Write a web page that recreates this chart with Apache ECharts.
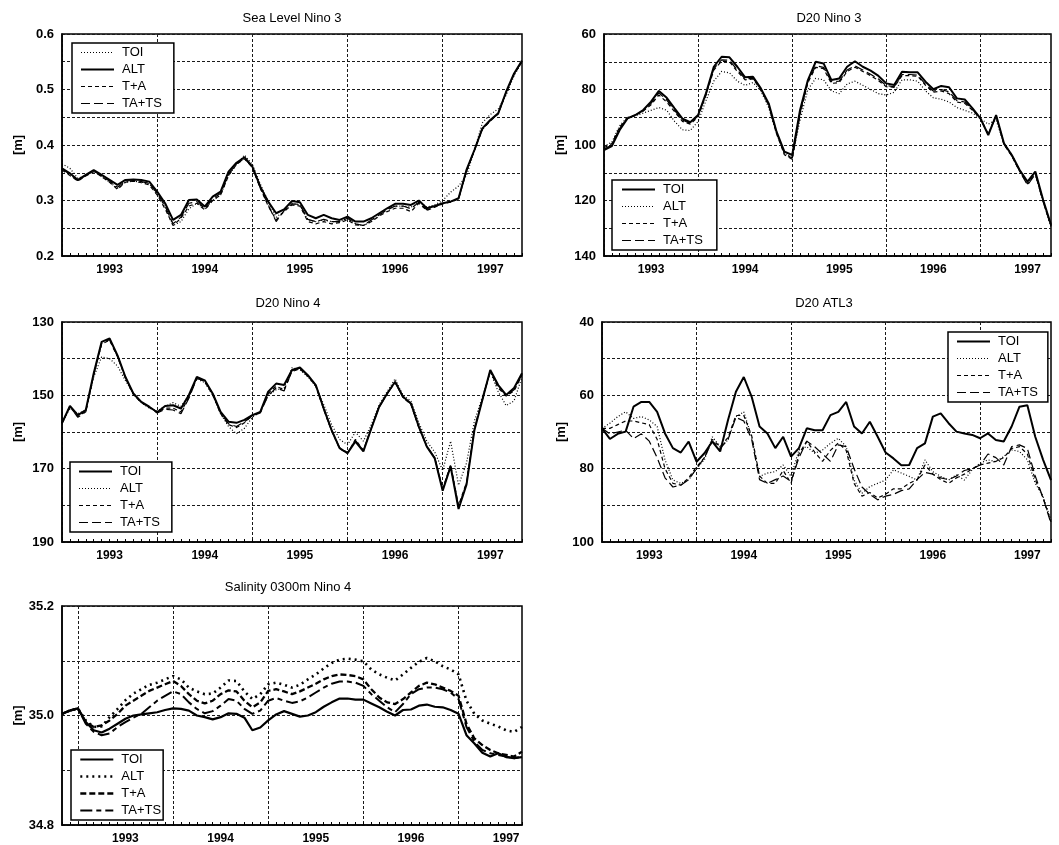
<!DOCTYPE html>
<html><head><meta charset="utf-8">
<script src="https://cdn.jsdelivr.net/npm/echarts@6/dist/echarts.min.js"></script>
<style>html,body{margin:0;padding:0;background:#fff}#c{width:1059px;height:845px}</style>
</head><body><div id="c"></div>
<script>
// ---------- Data ----------
const seriesNames = ['TOI', 'ALT', 'T+A', 'TA+TS'];
const titles = ['Sea Level Nino 3', 'D20 Nino 3', 'D20 Nino 4', 'D20 ATL3', 'Salinity 0300m Nino 4'];

// Panel 1: Sea Level Nino 3 (monthly, Jan 1993 .. Nov 1997)
const sl3_TOI = [0.366,0.358,0.340,0.345,0.354,0.343,0.333,0.322,0.333,0.335,0.333,0.330,0.312,0.288,0.255,0.262,0.285,0.295,0.285,0.300,0.310,0.345,0.365,0.382,0.365,0.330,0.298,0.270,0.280,0.295,0.292,0.265,0.262,0.265,0.262,0.262,0.268,0.258,0.255,0.262,0.275,0.285,0.290,0.290,0.288,0.298,0.288,0.292,0.300,0.315,0.326,0.345,0.390,0.440,0.455,0.465,0.490,0.525,0.550];
const sl3_ALT = [0.358,0.349,0.337,0.346,0.355,0.346,0.337,0.328,0.337,0.338,0.337,0.334,0.316,0.295,0.265,0.274,0.301,0.302,0.289,0.307,0.316,0.352,0.368,0.378,0.361,0.325,0.298,0.277,0.284,0.299,0.297,0.274,0.268,0.274,0.268,0.265,0.271,0.262,0.262,0.268,0.277,0.286,0.294,0.294,0.292,0.300,0.286,0.290,0.295,0.298,0.304,0.355,0.391,0.430,0.445,0.457,0.496,0.529,0.552];
const sl3_TA = [0.355,0.345,0.335,0.344,0.352,0.343,0.333,0.320,0.333,0.335,0.332,0.328,0.310,0.285,0.255,0.268,0.290,0.295,0.283,0.300,0.310,0.345,0.365,0.375,0.360,0.322,0.290,0.265,0.280,0.292,0.290,0.262,0.258,0.262,0.258,0.260,0.265,0.256,0.255,0.262,0.272,0.280,0.286,0.286,0.280,0.295,0.282,0.288,0.294,0.297,0.303,0.352,0.390,0.428,0.443,0.456,0.494,0.527,0.550];
const sl3_TATS = [0.357,0.347,0.336,0.345,0.353,0.344,0.335,0.324,0.335,0.336,0.334,0.331,0.313,0.290,0.258,0.270,0.295,0.298,0.286,0.303,0.313,0.348,0.366,0.376,0.360,0.323,0.292,0.262,0.282,0.294,0.293,0.266,0.262,0.266,0.262,0.262,0.268,0.258,0.255,0.265,0.274,0.283,0.290,0.290,0.285,0.297,0.283,0.289,0.295,0.298,0.303,0.354,0.391,0.429,0.444,0.457,0.495,0.528,0.551];

// Panel 2: D20 Nino 3 (Jan 1993 .. Oct 1997)
const d3_TOI = [101.8,100.4,94.6,90.4,89.2,87.4,84.4,80.5,83.0,86.8,90.5,91.8,89.2,81.4,71.8,68.2,68.4,71.8,75.6,75.4,79.6,85.0,95.2,102.4,103.6,87.4,76.6,70.0,70.6,76.6,76.0,71.8,69.8,71.8,73.2,75.1,77.8,78.4,73.6,73.8,73.8,77.2,79.9,78.7,79.2,83.2,83.6,86.8,90.4,96.4,89.2,99.4,103.6,109.0,113.2,109.6,119.8,128.8];
const d3_ALT = [100.5,99.0,93.0,90.0,89.5,88.5,87.5,86.5,87.5,91.5,94.5,94.8,91.5,84.0,77.0,73.5,74.0,77.0,78.5,77.5,80.5,86.5,96.0,103.0,104.5,91.0,80.0,76.0,76.5,80.5,81.5,78.0,77.0,78.5,80.0,81.5,82.0,81.0,76.5,76.5,77.0,80.5,83.0,83.5,84.5,86.5,87.5,88.5,90.5,92.5,91.0,99.5,103.5,109.0,113.5,110.5,120.5,129.5];
const d3_TA = [101.0,99.5,93.5,90.2,89.3,87.8,85.5,82.0,84.5,88.0,91.5,92.5,89.8,82.0,73.0,69.8,70.0,73.5,76.5,76.2,80.0,85.8,95.8,103.5,105.2,89.0,77.5,72.0,72.5,77.8,77.5,73.5,72.0,73.5,75.0,76.8,79.0,79.2,75.0,75.0,75.2,78.5,81.0,80.5,81.5,84.5,85.0,87.5,90.5,96.0,89.5,99.8,104.0,109.5,114.0,110.0,120.2,129.2];
const d3_TATS = [101.5,100.0,94.0,90.3,89.3,87.6,85.0,81.2,83.8,87.5,91.0,92.2,89.5,81.8,72.5,69.3,69.5,73.0,76.2,75.9,79.9,85.5,95.5,103.0,104.8,88.5,77.0,71.5,72.0,77.2,77.0,73.0,71.5,73.0,74.5,76.2,78.6,79.0,74.6,74.6,74.8,78.2,80.6,80.0,80.8,84.0,84.5,87.2,90.4,96.2,89.4,99.6,103.8,109.4,114.5,110.5,120.5,129.0];

// Panel 3: D20 Nino 4 (Jan 1993 .. Nov 1997)
const d4_TOI = [157.6,152.9,155.4,154.0,144.0,135.4,134.5,139.1,145.0,149.5,151.8,153.1,154.6,152.9,152.7,153.6,149.9,145.0,145.9,149.5,154.5,157.2,157.5,156.7,155.4,154.5,149.0,146.8,147.2,143.1,142.4,144.5,147.2,153.6,159.5,164.4,165.8,162.6,165.3,159.0,153.1,149.5,146.3,150.4,152.2,158.6,164.0,167.2,176.0,169.4,181.0,174.4,159.5,151.3,143.1,147.2,149.9,148.0,144.0];
const d4_ALT = [157.6,153.5,155.0,154.0,145.0,139.5,140.0,142.0,146.0,149.5,152.0,153.5,154.2,153.0,152.0,153.0,150.0,145.5,146.5,150.0,155.0,158.5,160.5,159.0,156.0,154.5,150.0,148.5,148.0,142.5,143.0,145.0,147.5,152.5,158.0,162.0,163.5,160.0,162.5,158.0,152.5,149.0,145.5,150.0,151.5,157.5,162.5,165.5,170.5,162.5,174.5,168.5,157.0,150.5,143.5,149.0,152.8,151.5,145.0];
const d4_TA = [157.6,153.2,155.8,154.3,144.5,136.0,135.0,139.5,145.3,149.8,152.0,153.3,154.6,153.5,153.5,154.5,150.5,145.2,146.3,149.8,155.0,158.0,158.8,157.5,155.5,154.6,149.5,147.5,148.5,143.5,142.8,144.8,147.5,153.8,159.8,164.5,165.8,162.0,165.0,158.8,153.0,149.5,146.5,150.6,152.5,158.8,164.0,167.0,175.5,169.0,180.0,173.8,159.0,151.0,143.5,148.0,150.2,148.8,144.5];
const d4_TATS = [157.6,153.0,156.0,154.5,144.3,135.8,134.8,139.3,145.1,149.6,151.9,153.2,154.8,153.8,154.0,155.0,150.8,145.4,146.0,149.6,154.8,157.8,158.5,157.2,155.6,154.8,150.0,148.0,148.8,143.3,142.6,144.6,147.3,153.7,159.6,164.3,165.6,162.3,165.1,159.0,153.2,149.6,146.4,150.5,152.3,158.7,163.8,167.0,175.8,169.2,180.5,174.0,159.2,151.2,143.3,147.5,150.0,148.5,144.2];

// Panel 4: D20 ATL3 (Jan 1993 .. Oct 1997)
const da_TOI = [69.0,71.9,70.5,69.9,63.1,61.8,61.8,64.5,70.4,74.4,75.6,72.6,78.1,75.8,72.6,75.3,66.7,59.0,55.0,60.4,68.5,70.4,74.4,71.3,76.7,74.4,69.0,69.5,69.5,65.4,64.5,61.8,68.5,70.4,67.2,71.3,75.6,77.2,79.1,79.0,74.4,73.1,65.8,64.9,67.6,69.9,70.4,70.8,71.7,70.4,72.2,72.6,68.5,63.1,62.7,71.3,77.6,83.1];
const da_ALT = [69.0,67.6,65.8,64.5,66.3,65.8,66.7,68.5,77.6,83.1,84.0,83.1,79.9,77.6,71.3,74.0,72.2,65.8,64.5,71.3,82.1,81.2,80.8,79.0,82.1,74.9,74.0,75.8,74.9,73.1,71.7,74.0,83.1,86.7,84.9,84.0,83.1,80.3,81.2,82.1,83.1,77.6,80.8,82.1,83.1,81.7,83.1,80.3,78.5,77.6,78.1,76.7,74.9,75.3,77.6,84.0,87.6,94.0];
const da_TA = [69.0,69.0,68.0,67.0,67.0,67.5,68.0,72.0,80.0,84.0,84.5,82.5,79.5,77.0,72.0,74.0,71.5,65.5,65.5,71.0,82.0,84.0,84.0,80.5,84.0,76.0,72.5,75.5,78.0,75.0,73.0,75.0,84.0,87.5,86.5,88.0,87.0,85.5,85.5,84.0,83.0,79.0,81.5,83.0,84.0,82.5,81.5,80.0,79.0,78.5,78.0,77.0,74.5,74.0,76.0,83.0,88.0,94.5];
const da_TATS = [69.0,70.5,70.0,69.5,71.8,70.5,72.5,77.0,82.5,85.0,84.5,83.0,80.0,77.0,72.5,74.5,72.0,66.0,67.0,72.0,83.0,84.0,83.0,82.0,83.5,77.0,72.5,74.0,76.0,78.0,73.5,74.0,80.0,85.0,87.0,88.5,87.5,87.0,86.0,85.5,83.0,81.0,81.5,82.5,83.0,82.0,80.5,80.0,79.0,76.0,77.0,79.0,74.0,73.5,74.5,82.0,88.0,95.0];

// Panel 5: Salinity 0300m Nino 4 (Nov 1992 .. Sep 1997)
const s4_TOI = [35.003,35.009,35.013,34.988,34.973,34.969,34.976,34.985,34.994,35.000,35.002,35.004,35.006,35.010,35.013,35.012,35.009,35.000,34.997,34.993,34.997,35.004,35.003,34.996,34.973,34.978,34.991,35.002,35.008,35.003,34.998,35.000,35.006,35.016,35.024,35.031,35.031,35.029,35.029,35.022,35.015,35.007,35.000,35.010,35.011,35.018,35.020,35.016,35.015,35.010,35.003,34.964,34.949,34.932,34.925,34.931,34.924,34.922,34.924];
const s4_ALT = [35.003,35.009,35.013,34.991,34.979,34.980,34.997,35.012,35.028,35.040,35.048,35.056,35.060,35.066,35.072,35.066,35.051,35.044,35.039,35.040,35.051,35.064,35.063,35.044,35.030,35.039,35.057,35.060,35.056,35.051,35.056,35.066,35.075,35.086,35.096,35.102,35.104,35.102,35.099,35.084,35.075,35.069,35.064,35.075,35.087,35.098,35.105,35.099,35.090,35.084,35.075,35.027,35.003,34.991,34.985,34.980,34.973,34.970,34.979];
const s4_TA = [35.003,35.009,35.013,34.988,34.979,34.982,34.991,35.003,35.018,35.027,35.036,35.045,35.051,35.057,35.063,35.054,35.039,35.027,35.022,35.027,35.039,35.046,35.044,35.027,35.015,35.024,35.045,35.048,35.044,35.039,35.044,35.051,35.058,35.066,35.072,35.075,35.074,35.072,35.066,35.048,35.033,35.024,35.021,35.030,35.042,35.054,35.060,35.057,35.051,35.045,35.036,34.985,34.958,34.946,34.937,34.931,34.928,34.925,34.934];
const s4_TATS = [35.003,35.009,35.013,34.985,34.970,34.964,34.967,34.979,34.988,34.996,35.003,35.015,35.027,35.036,35.044,35.039,35.024,35.012,35.004,35.008,35.018,35.030,35.027,35.012,35.003,35.009,35.027,35.032,35.027,35.023,35.026,35.033,35.042,35.051,35.058,35.062,35.062,35.060,35.054,35.039,35.027,35.015,35.006,35.021,35.039,35.048,35.051,35.051,35.048,35.042,35.030,34.979,34.952,34.937,34.931,34.928,34.925,34.922,34.925];

// ---------- Axis categories (months) ----------
function months(y, m, n) {
  const out = [];
  for (let i = 0; i < n; i++) {
    out.push(y + '-' + String(m).padStart(2, '0'));
    m++; if (m > 12) { m = 1; y++; }
  }
  return out;
}
const catsA = months(1993, 1, 59);
const catsB = months(1993, 1, 58);
const catsC = months(1992, 11, 59);

// ---------- Styles ----------
const FONT = 'Liberation Sans, Arial, Helvetica, sans-serif';
const SOLID = {type: 'solid', width: 2};
const DOT = {type: [1, 2], width: 1.2};
const SDASH = {type: [4, 3], width: 1.2};
const LDASH = {type: [9, 4], width: 1.2};
const P5_SOLID = {type: 'solid', width: 2.2};
const P5_DOT = {type: [2, 4], width: 2.6};
const P5_SDASH = {type: [6, 3], width: 2.3};
const P5_LDASH = {type: [12, 4, 5, 4], width: 2};

const panels = [
  {cats: catsA, data: [sl3_TOI, sl3_ALT, sl3_TA, sl3_TATS], styles: [DOT, SOLID, SDASH, LDASH],
   grid: {left: 62, top: 34, width: 460, height: 222},
   y: {min: 0.2, max: 0.6, interval: 0.05, inverse: false, label: v => Math.abs(v * 10 - Math.round(v * 10)) < 1e-6 ? v.toFixed(1) : ''},
   title: {x: 292, y: 12}, legend: {left: 72, top: 43, pad: [3, 12, 3, 8]}, nameGap: 37},
  {cats: catsB, data: [d3_TOI, d3_ALT, d3_TA, d3_TATS], styles: [SOLID, DOT, SDASH, LDASH],
   grid: {left: 604, top: 34, width: 447, height: 222},
   y: {min: 60, max: 140, interval: 10, inverse: true, label: v => v % 20 === 0 ? String(v) : ''},
   title: {x: 829, y: 12}, legend: {left: 612, top: 180, pad: [3, 14, 3, 9]}, nameGap: 37},
  {cats: catsA, data: [d4_TOI, d4_ALT, d4_TA, d4_TATS], styles: [SOLID, DOT, SDASH, LDASH],
   grid: {left: 62, top: 322, width: 460, height: 220},
   y: {min: 130, max: 190, interval: 10, inverse: true, label: v => (v - 130) % 20 === 0 ? String(v) : ''},
   title: {x: 288, y: 297}, legend: {left: 70, top: 462, pad: [3, 12, 3, 8]}, nameGap: 37},
  {cats: catsB, data: [da_TOI, da_ALT, da_TA, da_TATS], styles: [SOLID, DOT, SDASH, LDASH],
   grid: {left: 602, top: 322, width: 449, height: 220},
   y: {min: 40, max: 100, interval: 10, inverse: true, label: v => v % 20 === 0 ? String(v) : ''},
   title: {x: 824, y: 297}, legend: {left: 948, top: 332, pad: [3, 10, 3, 8]}, nameGap: 34},
  {cats: catsC, data: [s4_TOI, s4_ALT, s4_TA, s4_TATS], styles: [P5_SOLID, P5_DOT, P5_SDASH, P5_LDASH],
   grid: {left: 62, top: 606, width: 460, height: 222},
   y: {min: 34.8, max: 35.2, interval: 0.1, inverse: false, label: v => Math.round(v * 10) % 2 === 0 ? v.toFixed(1) : ''},
   title: {x: 288, y: 581}, legend: {left: 71, top: 750, pad: [3, 2, 3, 8]}, nameGap: 37}
];

const GRIDLINE = {type: [3, 2], color: '#1a1a1a', width: 1};

const option = {
  animation: false,
  backgroundColor: '#fff',
  textStyle: {fontFamily: FONT},
  title: panels.map((p, i) => ({
    text: titles[i], left: p.title.x, top: p.title.y, textAlign: 'center', padding: 0,
    textStyle: {fontSize: 13, fontWeight: 'normal', color: '#000', fontFamily: FONT}
  })),
  grid: panels.map(p => Object.assign({show: true, borderColor: '#000', borderWidth: 1.5, backgroundColor: 'transparent'}, p.grid)),
  xAxis: panels.map((p, i) => ({
    type: 'category', gridIndex: i, data: p.cats, boundaryGap: false,
    axisLine: {show: true, onZero: false, lineStyle: {color: '#000', width: 1.5}},
    axisTick: {show: true, inside: true, length: 3, interval: 0, lineStyle: {color: '#000', width: 1}},
    axisLabel: {interval: (idx, v) => v.endsWith('-07'), formatter: v => v.slice(0, 4),
      color: '#000', fontSize: 12, fontWeight: 'bold', margin: 8, fontFamily: FONT},
    splitLine: {show: true, interval: (idx, v) => v.endsWith('-01'), lineStyle: GRIDLINE}
  })),
  yAxis: panels.map((p, i) => ({
    type: 'value', gridIndex: i, min: p.y.min, max: p.y.max, interval: p.y.interval, inverse: p.y.inverse,
    name: '[m]', nameLocation: 'middle', nameGap: p.nameGap, nameRotate: 90,
    nameTextStyle: {color: '#000', fontSize: 13, fontWeight: 'bold', fontFamily: FONT},
    axisLine: {show: true, onZero: false, lineStyle: {color: '#000', width: 1.5}},
    axisTick: {show: false},
    axisLabel: {formatter: p.y.label, color: '#000', fontSize: 13, fontWeight: 'bold', margin: 8, fontFamily: FONT},
    splitLine: {show: true, lineStyle: GRIDLINE}
  })),
  legend: panels.map((p, i) => ({
    show: true, orient: 'vertical', left: p.legend.left, top: p.legend.top,
    itemWidth: 33, itemHeight: 12, itemGap: 4, padding: p.legend.pad,
    borderColor: '#000', borderWidth: 1.5, backgroundColor: '#fff',
    selectedMode: false,
    itemStyle: {color: 'rgba(0,0,0,0)', borderWidth: 0, opacity: 0},
    textStyle: {color: '#000', fontSize: 13, lineHeight: 13, fontFamily: FONT, padding: [0, 0, 0, 3]},
    data: seriesNames.map((n, k) => ({name: n, lineStyle: Object.assign({color: '#000', opacity: 1}, p.styles[k])}))
  })),
  series: []
};

panels.forEach((p, i) => {
  seriesNames.forEach((n, k) => {
    option.series.push({
      name: n, type: 'line', xAxisIndex: i, yAxisIndex: i, data: p.data[k],
      symbol: 'none', smooth: false,
      lineStyle: Object.assign({color: '#000'}, p.styles[k]),
      itemStyle: {color: '#000'},
      emphasis: {disabled: true}
    });
  });
});

const chart = echarts.init(document.getElementById('c'), null, {renderer: 'canvas'});
chart.setOption(option);
</script></body></html>
